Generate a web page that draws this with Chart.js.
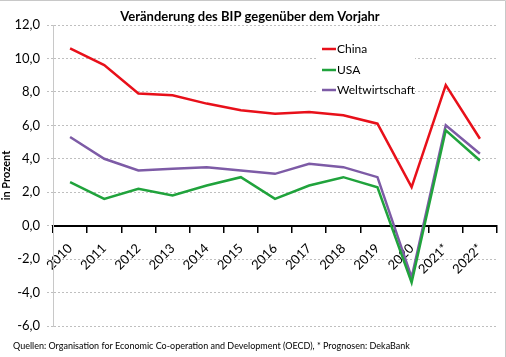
<!DOCTYPE html>
<html><head><meta charset="utf-8">
<script src="https://cdn.jsdelivr.net/npm/chart.js@4"></script>
<style>html,body{margin:0;padding:0;background:#fff}</style>
</head><body>
<canvas id="c" width="506" height="357"></canvas>
<script>
const categories = ['2010','2011','2012','2013','2014','2015','2016','2017','2018','2019','2020','2021*','2022*'];
const china = [10.6, 9.6, 7.9, 7.8, 7.3, 6.9, 6.7, 6.8, 6.6, 6.1, 2.3, 8.4, 5.2];
const usa   = [2.6, 1.6, 2.2, 1.8, 2.4, 2.9, 1.6, 2.4, 2.9, 2.3, -3.4, 5.7, 3.9];
const world = [5.3, 4.0, 3.3, 3.4, 3.5, 3.3, 3.1, 3.7, 3.5, 2.9, -3.1, 6.0, 4.3];
const seriesNames = ['China', 'USA', 'Weltwirtschaft'];
const yTickValues = [-6, -4, -2, 0, 2, 4, 6, 8, 10, 12];
const titleText = 'Veränderung des BIP gegenüber dem Vorjahr';
const yTitleText = 'in Prozent';
const footText = 'Quellen: Organisation for Economic Co-operation and Development (OECD), * Prognosen: DekaBank';

const FONT = 'Lato, "Open Sans", sans-serif';
const colors = ['#e8101a', '#20a33c', '#7d5ba6'];

const decor = {
  id: 'decor',
  afterDraw(chart) {
    const ctx = chart.ctx;
    ctx.save();
    ctx.strokeStyle = '#c8c8c8';
    ctx.lineWidth = 1;
    ctx.beginPath();
    ctx.moveTo(0, 0.5); ctx.lineTo(505.5, 0.5); ctx.lineTo(505.5, 357);
    ctx.stroke();
    ctx.fillStyle = '#000';
    ctx.font = 'bold 13px ' + FONT;
    ctx.textAlign = 'center';
    ctx.textBaseline = 'middle';
    ctx.fillText(titleText, 250, 17);
    ctx.font = '9px ' + FONT;
    ctx.textAlign = 'left';
    ctx.fillText(footText, 13, 346);
    ctx.fillStyle = '#fff';
    ctx.fillRect(318, 38, 97, 62);
    const ys = [49, 70, 90];
    chart.data.datasets.forEach((ds, i) => {
      ctx.strokeStyle = ds.borderColor;
      ctx.lineWidth = 2.5;
      ctx.beginPath();
      ctx.moveTo(322, ys[i]); ctx.lineTo(336, ys[i]);
      ctx.stroke();
      ctx.fillStyle = '#000';
      ctx.font = '12px ' + FONT;
      ctx.textAlign = 'left';
      ctx.textBaseline = 'middle';
      ctx.fillText(ds.label, 337, ys[i] + 0.5);
    });
    ctx.restore();
  }
};

const seriesData = [china, usa, world];
new Chart(document.getElementById('c'), {
  type: 'line',
  data: {
    labels: categories,
    datasets: seriesData.map((d, i) => ({
      label: seriesNames[i],
      data: d,
      borderColor: colors[i],
      backgroundColor: colors[i],
      borderWidth: 2.5,
      pointRadius: 0,
      tension: 0,
      fill: false
    }))
  },
  options: {
    responsive: false,
    animation: false,
    devicePixelRatio: 1,
    layout: { padding: { top: 25, bottom: 31, left: 0, right: 9 } },
    plugins: { legend: { display: false }, title: { display: false }, tooltip: { enabled: false } },
    scales: {
      x: {
        type: 'category',
        position: { y: 0 },
        offset: true,
        grid: { drawOnChartArea: false, drawTicks: true, tickLength: 6, color: '#000', lineWidth: 1.5, offset: true },
        border: { color: '#000', width: 2 },
        ticks: { minRotation: 45, maxRotation: 45, color: '#000', font: { family: FONT, size: 13 }, padding: 9, autoSkip: false },
        afterFit: s => { s.height = 0; }
      },
      y: {
        min: -6, max: 12,
        afterBuildTicks: s => { s.ticks = yTickValues.map(v => ({ value: v })); },
        ticks: { color: '#000', font: { family: FONT, size: 13 }, padding: 7,
          callback: v => v.toFixed(1).replace('.', ',') },
        grid: { color: '#bfbfbf', lineWidth: 1, tickLength: 6, tickBorderDash: [2, 2] },
        border: { color: '#c8c8c8', width: 1, dash: [2, 2] },
        title: { display: true, text: yTitleText, color: '#000', font: { family: FONT, size: 11, weight: 'bold' }, padding: 0 },
        afterFit: s => { s.width = 53; }
      }
    }
  },
  plugins: [decor]
});
</script>
</body></html>
